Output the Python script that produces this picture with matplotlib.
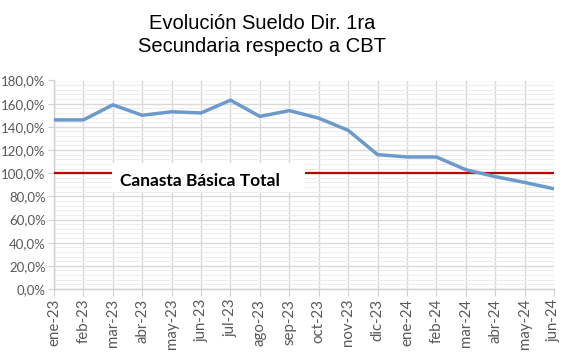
import matplotlib
matplotlib.use("Agg")
import matplotlib.pyplot as plt
from matplotlib.ticker import MultipleLocator, FuncFormatter
from matplotlib.patches import Rectangle

months = ["ene-23", "feb-23", "mar-23", "abr-23", "may-23", "jun-23", "jul-23", "ago-23",
          "sep-23", "oct-23", "nov-23", "dic-23", "ene-24", "feb-24", "mar-24", "abr-24",
          "may-24", "jun-24"]
ratio = [146, 146, 159, 150, 153, 152, 163, 149, 154, 147.5, 137, 116, 114, 114, 103, 97, 92, 86.5]
cbt = [100] * len(months)
title = "Evolución Sueldo Dir. 1ra\nSecundaria respecto a CBT"
label = "Canasta Básica Total"

fig = plt.figure(figsize=(5.63, 3.57), dpi=100)
ax = fig.add_axes([54/563, 68/357, 500/563, 208.5/357])

x = list(range(len(months)))
ax.plot(x, cbt, color="#C00000", lw=1.6, zorder=3, solid_capstyle="butt")
ax.plot(x, ratio, color="#6C9ACB", lw=2.5, zorder=5, solid_joinstyle="round")

ax.set_xlim(0, len(months) - 1)
ax.set_ylim(0, 180)
ax.set_xticks(x)
ax.set_xticklabels(months, rotation=90, fontsize=10.8, family="Lato", color="#595959")
ax.yaxis.set_major_locator(MultipleLocator(20))
ax.yaxis.set_minor_locator(MultipleLocator(4))
ax.yaxis.set_major_formatter(FuncFormatter(lambda v, p: f"{v:.1f}%".replace(".", ",")))
for t in ax.get_yticklabels():
    t.set_fontsize(9.5)
    t.set_family("Lato")
    t.set_color("#595959")

ax.grid(True, which="major", axis="both", color="#D9D9D9", lw=1.0, zorder=0)
ax.grid(True, which="minor", axis="y", color="#EDEDED", lw=0.8, zorder=0)
ax.set_axisbelow(True)
for s in ["top", "right"]:
    ax.spines[s].set_visible(False)
for s in ["left", "bottom"]:
    ax.spines[s].set_color("#D0D0D0")
    ax.spines[s].set_linewidth(1.0)
ax.tick_params(axis="x", which="major", length=5, color="#D0D0D0", pad=2)
ax.tick_params(axis="y", which="major", length=4, color="#D0D0D0", pad=2)
ax.tick_params(axis="y", which="minor", length=0)

# white label box
ax.add_patch(Rectangle(((112-54)/500, (357-68-192)/208.5), (305-112)/500, 29/208.5,
                       transform=ax.transAxes, facecolor="white", edgecolor="none", zorder=4))
ax.text((200-54)/500, (289-181)/208.5, label, transform=ax.transAxes, ha="center", va="center",
        fontsize=12.5, fontweight="bold", family="Lato", color="black", zorder=6)

fig.text(262/563, 1 - 35/357, title, ha="center", va="center", fontsize=14.5,
         family="Liberation Sans", linespacing=1.22)

fig.savefig("out.png", dpi=100)
